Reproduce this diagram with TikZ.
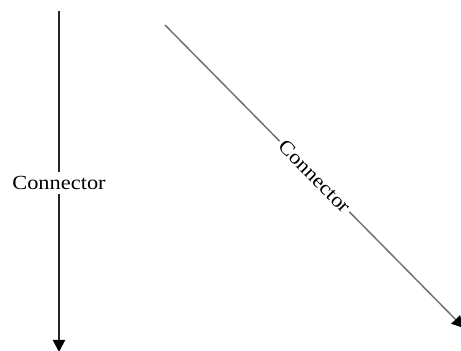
\documentclass[tikz,border=0pt]{standalone}
\usepackage{fontspec}
\setmainfont{Liberation Serif}
\usetikzlibrary{arrows.meta}
\tikzset{
  conn/.style={-{Triangle[width=12pt,length=12pt,color=black]}},
  lbl/.style={fill=white, inner sep=4pt, font=\fontsize{20}{22}\selectfont, text=black},
}
\begin{document}
\begin{tikzpicture}[x=1pt,y=1pt]
\useasboundingbox (0,0) rectangle (461,351);
\coordinate (a1) at (59,340);
\coordinate (a2) at (59,-1);
\coordinate (b1) at (165,326);
\coordinate (b2) at (464,23);
\draw[conn, draw=black!85, line width=2pt] (a1) -- node[lbl, pos=0.505] (la) {\scalebox{1.12}[1]{Connector}} (a2);
\draw[conn, draw=black!55, line width=1.5pt] (b1) -- node[lbl, sloped, pos=0.5, inner sep=3pt] (lb) {\scalebox{1.12}[1]{Connector}} (b2);
\end{tikzpicture}
\end{document}
